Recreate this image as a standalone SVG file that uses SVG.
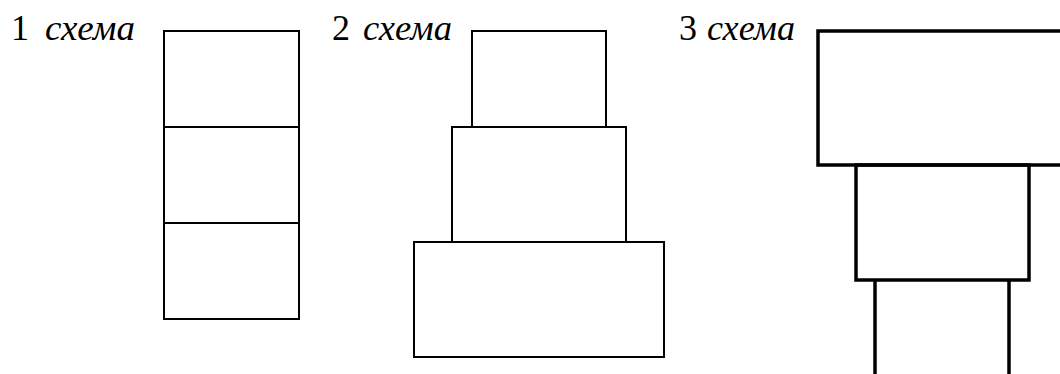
<svg xmlns="http://www.w3.org/2000/svg" width="1060" height="374" viewBox="0 0 1060 374">
<style>
.t{font-family:'Liberation Serif',serif;font-size:36px;fill:#000}
.i{font-style:italic}
.b{fill:none;stroke:#000;stroke-width:2}
.k{fill:none;stroke:#000;stroke-width:3.5}
</style>
<rect width="1060" height="374" fill="#fff"/>
<g id="label1"><text class="t" x="11" y="40">1</text><text class="t i" x="45" y="40" textLength="90" lengthAdjust="spacingAndGlyphs">схема</text></g>
<g id="label2"><text class="t" x="332" y="40">2</text><text class="t i" x="363" y="40" textLength="89" lengthAdjust="spacingAndGlyphs">схема</text></g>
<g id="label3"><text class="t" x="679" y="40">3</text><text class="t i" x="707" y="40" textLength="88" lengthAdjust="spacingAndGlyphs">схема</text></g>
<g id="scheme1">
<rect class="b" x="164" y="31" width="135" height="288"/>
<line class="b" x1="164" y1="127" x2="299" y2="127"/>
<line class="b" x1="164" y1="223" x2="299" y2="223"/>
</g>
<g id="scheme2">
<rect class="b" x="472" y="31" width="134" height="96"/>
<rect class="b" x="452" y="127" width="174" height="115"/>
<rect class="b" x="414" y="242" width="250" height="115"/>
</g>
<g id="scheme3">
<rect class="k" x="818" y="31" width="260" height="134"/>
<rect class="k" x="856" y="165" width="173" height="115"/>
<path class="k" d="M875 280V376M1009 280V376"/>
</g>
</svg>
